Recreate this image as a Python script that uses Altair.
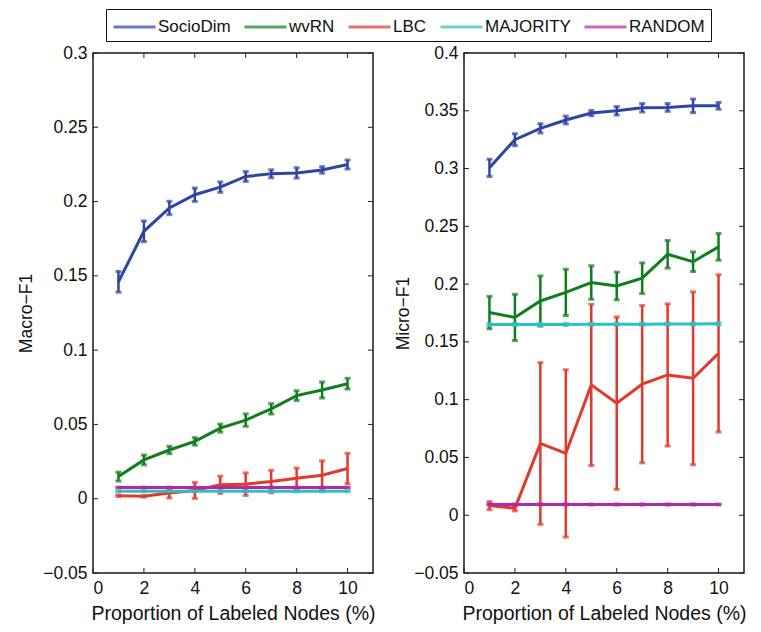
import altair as alt
import pandas as pd

x_vals = [1, 2, 3, 4, 5, 6, 7, 8, 9, 10]
methods = ["SocioDim", "wvRN", "LBC", "MAJORITY", "RANDOM"]
colors = ["#2e45a3", "#0f7e1c", "#e2392c", "#2cc0c0", "#b02aa8"]

# Macro-F1 (left panel): means and half error-bar lengths
macro_sociodim = [0.146, 0.180, 0.1957, 0.2046, 0.2097, 0.2169, 0.2187, 0.2193, 0.2213, 0.2249]
macro_sociodim_err = [0.007, 0.007, 0.0045, 0.0045, 0.0035, 0.0033, 0.0027, 0.0035, 0.0022, 0.003]
macro_wvrn = [0.0149, 0.0261, 0.0328, 0.0386, 0.0475, 0.0529, 0.0605, 0.0694, 0.0732, 0.0774]
macro_wvrn_err = [0.003, 0.0033, 0.0025, 0.0025, 0.0027, 0.0042, 0.0035, 0.0033, 0.0054, 0.0036]
macro_lbc = [0.002, 0.0016, 0.0038, 0.0056, 0.0094, 0.0098, 0.0116, 0.0138, 0.0158, 0.0203]
macro_lbc_err = [0.0005, 0.0005, 0.0033, 0.0054, 0.0058, 0.0076, 0.0076, 0.0069, 0.0097, 0.0103]
macro_majority = [0.005, 0.005, 0.005, 0.005, 0.005, 0.005, 0.005, 0.005, 0.005, 0.005]
macro_majority_err = [0.0003] * 10
macro_random = [0.0075, 0.0075, 0.0075, 0.0075, 0.0075, 0.0075, 0.0075, 0.0075, 0.0075, 0.0075]
macro_random_err = [0.0003] * 10

# Micro-F1 (right panel)
micro_sociodim = [0.3006, 0.325, 0.3348, 0.342, 0.348, 0.350, 0.3526, 0.3529, 0.3543, 0.3543]
micro_sociodim_err = [0.0075, 0.0052, 0.004, 0.0034, 0.0023, 0.0037, 0.0037, 0.0034, 0.0059, 0.0029]
micro_wvrn = [0.1754, 0.1712, 0.1854, 0.1928, 0.2014, 0.1984, 0.2051, 0.2258, 0.2194, 0.2322]
micro_wvrn_err = [0.014, 0.020, 0.0217, 0.020, 0.0145, 0.012, 0.0133, 0.012, 0.0085, 0.0116]
micro_lbc = [0.0083, 0.006, 0.0621, 0.0535, 0.1128, 0.097, 0.1134, 0.1214, 0.1185, 0.1400]
micro_lbc_err = [0.0035, 0.0023, 0.070, 0.0724, 0.0697, 0.0746, 0.0681, 0.0615, 0.0748, 0.068]
micro_majority = [0.1650, 0.1650, 0.1650, 0.1651, 0.1652, 0.1652, 0.1653, 0.1654, 0.1655, 0.1657]
micro_majority_err = [0.001] * 10
micro_random = [0.0093] * 10
micro_random_err = [0.0005] * 10

x_ticks = [0, 2, 4, 6, 8, 10]
macro_ticks = [-0.05, 0, 0.05, 0.1, 0.15, 0.2, 0.25, 0.3]
micro_ticks = [-0.05, 0, 0.05, 0.1, 0.15, 0.2, 0.25, 0.3, 0.35, 0.4]

FONT = "Liberation Sans"
W, H = 280, 520


def build_df(series):
    rows = []
    for name, means, errs in series:
        for x, m, e in zip(x_vals, means, errs):
            rows.append({"method": name, "x": x, "mean": m, "lo": m - e, "hi": m + e})
    return pd.DataFrame(rows)


def panel(df, ydom, yticks, ytitle, title_pad):
    xs = alt.Scale(domain=[0, 11], nice=False, zero=False)
    ys = alt.Scale(domain=ydom, nice=False, zero=False)
    xaxis = alt.Axis(values=x_ticks, ticks=False, domain=False, grid=False,
                     labelPadding=6, titlePadding=8, titleFontSize=19.5)
    yaxis = alt.Axis(values=yticks, ticks=False, domain=False, grid=False,
                     format="~g", labelPadding=6, titlePadding=title_pad,
                     titleFontSize=17.5)
    xtitle = "Proportion of Labeled Nodes (%)"
    color = alt.Color("method:N", scale=alt.Scale(domain=methods, range=colors),
                      sort=methods, title=None,
                      legend=alt.Legend(orient="none", legendX=13, legendY=-44,
                                        direction="horizontal", columns=5))
    base = alt.Chart(df)
    err = base.mark_rule(strokeWidth=2.5).encode(
        x=alt.X("x:Q", scale=xs, axis=xaxis, title=xtitle),
        y=alt.Y("lo:Q", scale=ys, axis=yaxis, title=ytitle),
        y2="hi:Q",
        color=color,
    )
    cap_lo = base.mark_tick(orient="horizontal", size=6, thickness=3).encode(
        x=alt.X("x:Q", scale=xs, axis=xaxis, title=xtitle),
        y=alt.Y("lo:Q", scale=ys, axis=yaxis, title=ytitle),
        color=color,
    )
    cap_hi = base.mark_tick(orient="horizontal", size=6, thickness=3).encode(
        x=alt.X("x:Q", scale=xs, axis=xaxis, title=xtitle),
        y=alt.Y("hi:Q", scale=ys, axis=yaxis, title=ytitle),
        color=color,
    )
    line = base.mark_line(strokeWidth=3).encode(
        x=alt.X("x:Q", scale=xs, axis=xaxis, title=xtitle),
        y=alt.Y("mean:Q", scale=ys, axis=yaxis, title=ytitle),
        color=color,
        order="x:Q",
    )
    ydf = pd.DataFrame({"v": yticks})
    xdf = pd.DataFrame({"v": x_ticks})
    yt_left = alt.Chart(ydf).mark_rule(color="#222", strokeWidth=1).encode(
        y=alt.Y("v:Q", scale=ys, axis=yaxis, title=ytitle),
        x=alt.value(0), x2=alt.value(5))
    yt_right = alt.Chart(ydf).mark_rule(color="#222", strokeWidth=1).encode(
        y=alt.Y("v:Q", scale=ys, axis=yaxis, title=ytitle),
        x=alt.value(W - 5), x2=alt.value(W))
    xt_bot = alt.Chart(xdf).mark_rule(color="#222", strokeWidth=1).encode(
        x=alt.X("v:Q", scale=xs, axis=xaxis, title=xtitle),
        y=alt.value(H - 5), y2=alt.value(H))
    xt_top = alt.Chart(xdf).mark_rule(color="#222", strokeWidth=1).encode(
        x=alt.X("v:Q", scale=xs, axis=xaxis, title=xtitle),
        y=alt.value(0), y2=alt.value(5))
    return alt.layer(yt_left, yt_right, xt_bot, xt_top, err, cap_lo, cap_hi, line).properties(
        width=W, height=H)


macro_df = build_df([
    ("SocioDim", macro_sociodim, macro_sociodim_err),
    ("wvRN", macro_wvrn, macro_wvrn_err),
    ("LBC", macro_lbc, macro_lbc_err),
    ("MAJORITY", macro_majority, macro_majority_err),
    ("RANDOM", macro_random, macro_random_err),
])
micro_df = build_df([
    ("SocioDim", micro_sociodim, micro_sociodim_err),
    ("wvRN", micro_wvrn, micro_wvrn_err),
    ("LBC", micro_lbc, micro_lbc_err),
    ("MAJORITY", micro_majority, micro_majority_err),
    ("RANDOM", micro_random, micro_random_err),
])

left = panel(macro_df, [-0.05, 0.3], macro_ticks, "Macro\u2212F1", 7)
right = panel(micro_df, [-0.05, 0.4], micro_ticks, "Micro\u2212F1", 1)

chart = alt.hconcat(left, right, spacing=17).resolve_scale(color="shared").resolve_legend(
    color="shared"
).properties(
    padding={"left": 8, "top": 0, "right": 0, "bottom": 0}
).configure_view(
    stroke="#1a1a1a", strokeWidth=1.5
).configure_axis(
    labelFont=FONT, labelFontSize=17.5, labelColor="#111",
    titleFont=FONT, titleFontWeight="normal", titleColor="#111",
).configure_legend(
    symbolType="M-1,0H3", symbolSize=441, symbolStrokeWidth=3,
    labelFont=FONT, labelFontSize=17, labelColor="#111",
    strokeColor="#111", padding=6, columnPadding=7, labelOffset=22,
    fillColor="white",
)

chart.save("out.html", embed_options={"renderer": "svg", "actions": False})
